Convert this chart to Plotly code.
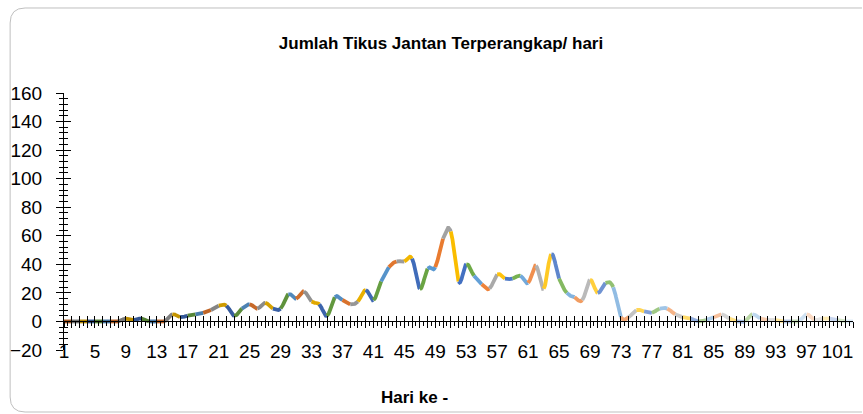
import numpy as np
import plotly.graph_objects as go

# ---------------- data ----------------
days = list(range(1, 104))
counts = [0, 0, 0, 0, 0, 0, 0, 0, 2, 1,
          2, 0, 0, 0, 5, 3, 4, 5, 6, 8,
          11, 11, 4, 9, 12, 9, 13, 9, 9, 19,
          16, 21, 14, 12, 4, 17, 15, 12, 14, 22,
          15, 28, 38, 42, 42, 44, 23, 37, 38, 58,
          63, 28, 40, 32, 26, 23, 33, 30, 30, 32,
          27, 39, 23, 47, 30, 20, 17, 15, 29, 20,
          27, 24, 3, 3, 8, 7, 6, 9, 9, 5,
          3, 2, 0, 1, 3, 5, 2, 0, 0, 5,
          2, 1, 1, 0, 0, 0, 5, 1, 2, 2,
          1, 0, 0]
tick_days = list(range(1, 102, 4))
tick_labels = [str(d) for d in tick_days]
title_text = "Jumlah Tikus Jantan Terperangkap/ hari"
x_title = "Hari ke -"

# ---------------- styling helpers ----------------
base_colors = ['#5B9BD5', '#ED7D31', '#A5A5A5', '#FFC000', '#4472C4', '#70AD47']
n = len(days)
n_groups = (n + 5) // 6


def point_color(k):
    """Excel-like 'vary colors by point' shade for 1-based point k."""
    h = base_colors[(k - 1) % 6]
    rgb = np.array([int(h[i:i + 2], 16) for i in (1, 3, 5)], float)
    g = (k - 1) // 6
    mid = (n_groups - 1) / 2
    t = (g - mid) / mid
    if t < 0:
        rgb = rgb * (1 + 0.3 * t)
    else:
        rgb = rgb + (255 - rgb) * 0.8 * t
    rgb = np.clip(np.round(rgb), 0, 255).astype(int)
    return 'rgb(%d,%d,%d)' % tuple(rgb)


# smoothed (Excel-style Bezier) segments, each coloured by its end point
xs = np.array(days, float)
ys = np.array(counts, float)
P = np.stack([xs, ys], axis=1)
tt = np.linspace(0, 1, 16)[:, None]
K = 0.2

fig = go.Figure()
for i in range(n - 1):
    pm1 = P[i - 1] if i > 0 else P[i]
    p2 = P[i + 2] if i + 2 < n else P[i + 1]
    c1 = P[i] + (P[i + 1] - pm1) * K
    c2 = P[i + 1] - (p2 - P[i]) * K
    B = ((1 - tt) ** 3) * P[i] + 3 * ((1 - tt) ** 2) * tt * c1 + 3 * (1 - tt) * tt ** 2 * c2 + tt ** 3 * P[i + 1]
    fig.add_trace(go.Scatter(x=B[:, 0], y=B[:, 1], mode='lines',
                             line=dict(color=point_color(i + 2), width=3.8),
                             hoverinfo='skip', showlegend=False))

# helper traces so the overlay axes (crossing tick marks) are drawn
fig.add_trace(go.Scatter(x=[None], y=[None], xaxis='x2', yaxis='y2', showlegend=False, hoverinfo='skip'))
fig.add_trace(go.Scatter(x=[None], y=[None], xaxis='x3', yaxis='y2', showlegend=False, hoverinfo='skip'))

# ---------------- layout ----------------
W, H = 863, 414
L, R, T, Bm = 62, 10, 93, 64
pw, ph = W - L - R, H - T - Bm
ymin, ymax = -20, 160
xr = [1, 103]
FONT = "Liberation Sans, Arial, sans-serif"


def px2paper(px, py):
    return (px - L) / pw, (H - Bm - py) / ph


zero_pos = (0 - ymin) / (ymax - ymin)
label_pos = 12 / ph

fig.update_layout(
    width=W, height=H,
    margin=dict(l=L, r=R, t=T, b=Bm),
    paper_bgcolor='white', plot_bgcolor='white',
    showlegend=False,
    font=dict(family=FONT, color='black'),
    title=dict(text='<b>' + title_text + '</b>', x=441 / W, xref='container', xanchor='center',
               y=1 - 43 / H, yref='container', yanchor='middle',
               font=dict(size=17, family=FONT, color='black')),
    xaxis=dict(range=xr, anchor='free', position=label_pos,
               tickmode='array', tickvals=tick_days, ticktext=tick_labels,
               ticks='', showline=False, showgrid=False, zeroline=False,
               tickfont=dict(size=19, family=FONT, color='black')),
    xaxis2=dict(range=xr, overlaying='x', anchor='free', position=zero_pos,
                showline=True, linecolor='black', linewidth=1,
                ticks='outside', ticklen=6, tickcolor='black', tickwidth=1,
                tickmode='linear', tick0=1, dtick=1,
                minor=dict(ticks='outside', ticklen=4, tick0=1.5, dtick=1, tickcolor='black'),
                showticklabels=False, showgrid=False, zeroline=False),
    xaxis3=dict(range=xr, overlaying='x', anchor='free', position=zero_pos,
                showline=False, ticks='inside', ticklen=5, tickcolor='black', tickwidth=1,
                tickmode='linear', tick0=1, dtick=1,
                showticklabels=False, showgrid=False, zeroline=False),
    yaxis=dict(range=[ymin, ymax], anchor='x', tickmode='linear', tick0=ymin, dtick=20,
               ticks='outside', ticklen=7, tickcolor='black', tickwidth=1,
               minor=dict(ticks='outside', ticklen=4, tick0=0, dtick=4, tickcolor='black'),
               showline=True, linecolor='black', linewidth=1,
               showgrid=False, zeroline=False, ticklabelstandoff=10,
               tickfont=dict(size=19, family=FONT, color='black')),
    yaxis2=dict(range=[ymin, ymax], overlaying='y', anchor='x', side='left',
                tickmode='linear', tick0=ymin, dtick=20,
                ticks='inside', ticklen=7, tickcolor='black', tickwidth=1,
                minor=dict(ticks='inside', ticklen=4, tick0=0, dtick=4, tickcolor='black'),
                showline=False, showticklabels=False, showgrid=False, zeroline=False),
)

ax, ay = px2paper(413, 397)
fig.add_annotation(text='<b>' + x_title + '</b>', x=ax, y=ay, xref='paper', yref='paper',
                   showarrow=False, xanchor='center', yanchor='middle',
                   font=dict(size=17, family=FONT, color='black'))

# rounded chart-area border: only top and left sides are inside the frame
x0, y0, y1, rr, xend = 8, 8, 412, 15, 862
f = lambda p: '%.5f,%.5f' % p
path = ('M ' + f(px2paper(xend, y0)) + ' L ' + f(px2paper(x0 + rr, y0)) +
        ' Q ' + f(px2paper(x0, y0)) + ' ' + f(px2paper(x0, y0 + rr)) +
        ' L ' + f(px2paper(x0, y1 - rr)) +
        ' Q ' + f(px2paper(x0, y1)) + ' ' + f(px2paper(x0 + rr, y1)) +
        ' L ' + f(px2paper(xend, y1)))
fig.add_shape(type='path', path=path, xref='paper', yref='paper',
              line=dict(color='#BFBFBF', width=1), fillcolor='rgba(0,0,0,0)', layer='below')

fig.write_html("out.html", config={'displayModeBar': False},
               post_script="document.body.style.margin='0';document.body.style.padding='0';")
